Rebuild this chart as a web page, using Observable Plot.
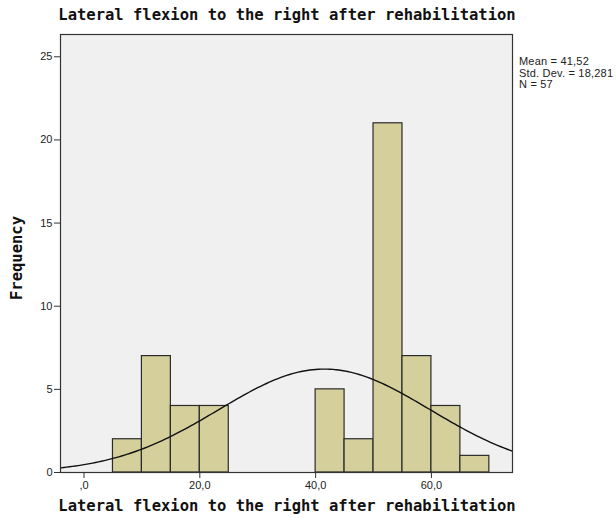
<!DOCTYPE html>
<html>
<head>
<meta charset="utf-8">
<script src="https://cdn.jsdelivr.net/npm/d3@7"></script>
<script src="https://cdn.jsdelivr.net/npm/@observablehq/plot@0.6"></script>
<style>
  body { margin: 0; background: #fff; }
  #wrap { position: relative; width: 616px; height: 518px; overflow: hidden; }
  #wrap svg { position: absolute; left: 0; top: 0; }
  .lbl { position: absolute; font-family: "DejaVu Sans Mono", monospace; font-weight: bold; font-size: 15.5px; color: #111; white-space: nowrap; }
  #stats { position: absolute; left: 519px; top: 56px; font-family: "Liberation Sans", Arial, sans-serif; font-size: 11px; line-height: 11.5px; letter-spacing: 0.2px; color: #222; white-space: nowrap; }
</style>
</head>
<body>
<div id="wrap"></div>
<script>
const titleText = "Lateral flexion to the right after rehabilitation";
const xLabel = "Lateral flexion to the right after rehabilitation";
const yLabel = "Frequency";

// histogram bins (lower edge, upper edge, count)
const binStart = [5, 10, 15, 20, 40, 45, 50, 55, 60, 65];
const binEnd   = [10, 15, 20, 25, 45, 50, 55, 60, 65, 70];
const counts   = [2, 7, 4, 4, 5, 2, 21, 7, 4, 1];

// statistics shown
const mean = 41.52;
const sd = 18.281;
const n = 57;
const binWidth = 5;
const statLines = ["Mean = 41,52", "Std. Dev. = 18,281", "N = 57"];

const xTicks = [0, 20, 40, 60];
const yTicks = [0, 5, 10, 15, 20, 25];

const bins = binStart.map((s, i) => ({x1: s, x2: binEnd[i], y: counts[i]}));

// fitted normal curve from the shown mean / std. dev. / N
const curve = d3.range(-6, 76.01, 0.5).map(x => ({
  x,
  y: n * binWidth / (sd * Math.sqrt(2 * Math.PI)) * Math.exp(-0.5 * ((x - mean) / sd) ** 2)
}));

const fmtX = d => d === 0 ? ",0" : d.toFixed(1).replace(".", ",");

const chart = Plot.plot({
  width: 616,
  height: 518,
  marginLeft: 60,
  marginRight: 104,
  marginTop: 34,
  marginBottom: 46,
  style: {fontFamily: "'Liberation Sans', Arial, sans-serif", fontSize: "11px", color: "#222", background: "transparent"},
  x: {domain: [-4.06, 74.0], label: null},
  y: {domain: [0, 26.34], label: null},
  marks: [
    Plot.frame({fill: "#f0f0f0", stroke: null}),
    Plot.rectY(bins, {x1: "x1", x2: "x2", y: "y", fill: "#d5d09b", stroke: "#2b2b2b", strokeWidth: 1.2, inset: 0}),
    Plot.line(curve, {x: "x", y: "y", stroke: "#111", strokeWidth: 1.4, clip: true}),
    Plot.frame({stroke: "#333", strokeWidth: 1.2}),
    Plot.axisX({ticks: xTicks, tickFormat: fmtX, tickSize: 6, tickPadding: 3, label: null, stroke: "#333"}),
    Plot.axisY({ticks: yTicks, tickFormat: d => String(d), tickSize: 6, tickPadding: 2, label: null, stroke: "#333"})
  ]
});

const wrap = document.getElementById("wrap");
wrap.appendChild(chart);

function addLabel(text, css) {
  const d = document.createElement("div");
  d.className = "lbl";
  d.textContent = text;
  Object.assign(d.style, css);
  wrap.appendChild(d);
  return d;
}
addLabel(titleText, {left: "287px", top: "6px", transform: "translateX(-50%)"});
addLabel(xLabel, {left: "287px", top: "497px", transform: "translateX(-50%)"});
addLabel(yLabel, {left: "17px", top: "258px", transform: "translate(-50%, -50%) rotate(-90deg)"});

const st = document.createElement("div");
st.id = "stats";
st.innerHTML = statLines.join("<br>");
wrap.appendChild(st);
</script>
</body>
</html>
